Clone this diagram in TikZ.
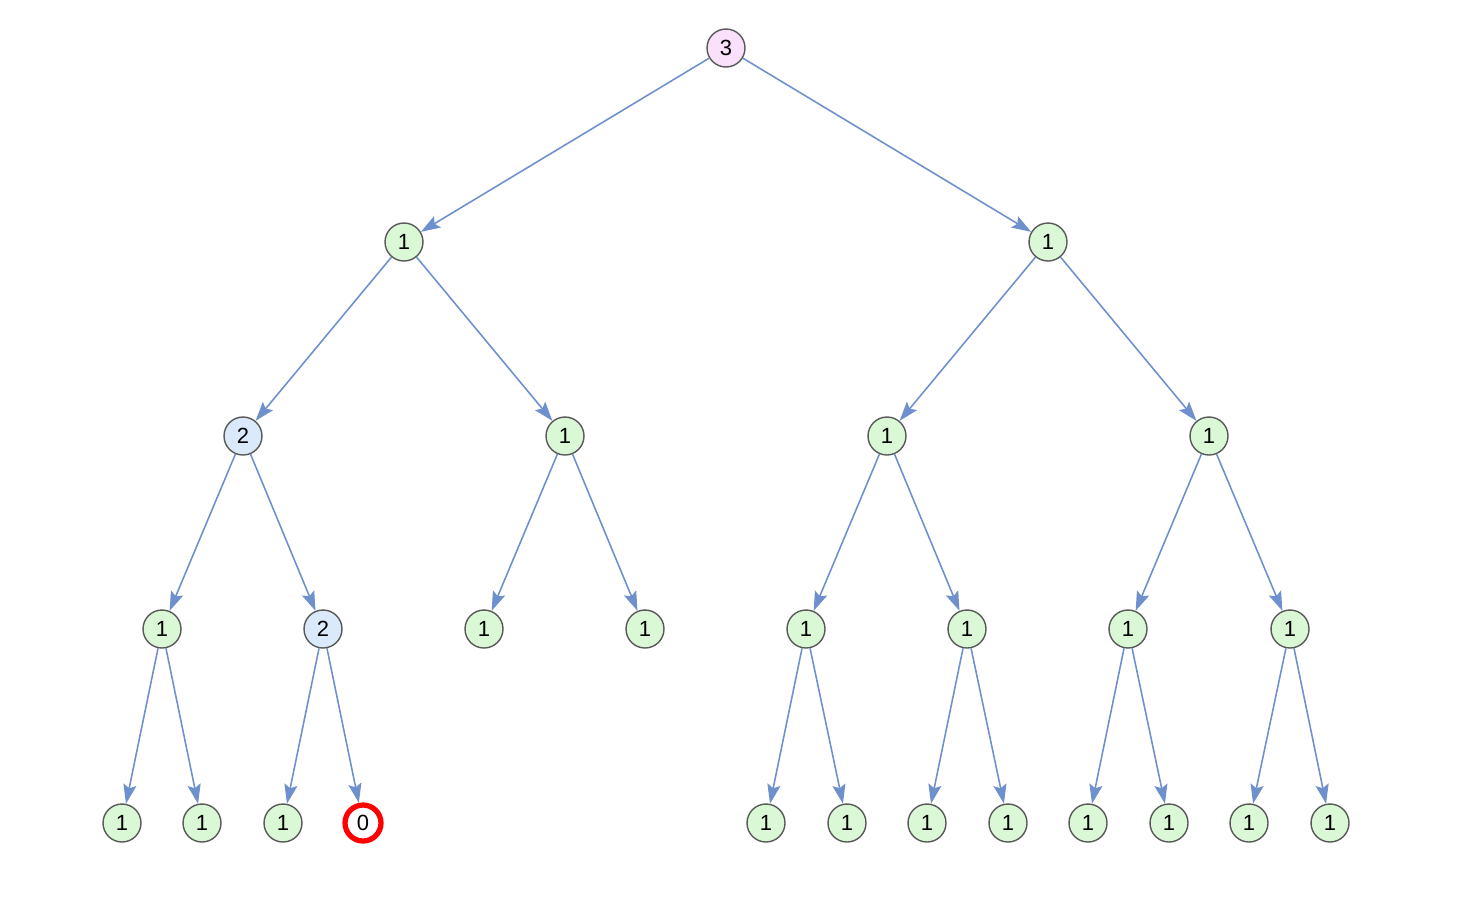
\documentclass[tikz,border=0pt]{standalone}
\usepackage{fontspec}
\setmainfont{Liberation Sans}
\usetikzlibrary{arrows.meta}
\definecolor{edgeblue}{RGB}{110,145,206}
\definecolor{leafgreen}{RGB}{218,247,214}
\definecolor{twoblue}{RGB}{219,234,250}
\definecolor{rootpink}{RGB}{250,224,250}

\begin{document}
\begin{tikzpicture}[x=0.02cm,y=-0.02cm,font=\fontsize{12.5}{14}\selectfont,
  vert/.style={circle,draw=black!65,line width=0.8pt,minimum size=0.76cm,inner sep=0pt},
  one/.style={vert,fill=leafgreen},
  two/.style={vert,fill=twoblue},
  top/.style={vert,fill=rootpink},
  bad/.style={vert,draw=red,line width=3pt,fill=white,minimum size=0.72cm},
  edge/.style={edgeblue,line width=0.9pt,-{Stealth[length=11pt,width=7.5pt,inset=2pt]}}]
\useasboundingbox (0,0) rectangle (1462,904);
% nodes
\node[top] (n) at (726,48) {3};
\node[one] (n0) at (404,242) {1};
\node[one] (n1) at (1048,242) {1};
\node[two] (n00) at (243,436) {2};
\node[one] (n01) at (565,436) {1};
\node[one] (n10) at (887,436) {1};
\node[one] (n11) at (1209,436) {1};
\node[one] (n000) at (162,629) {1};
\node[two] (n001) at (323,629) {2};
\node[one] (n010) at (484,629) {1};
\node[one] (n011) at (645,629) {1};
\node[one] (n100) at (806,629) {1};
\node[one] (n101) at (967,629) {1};
\node[one] (n110) at (1128,629) {1};
\node[one] (n111) at (1290,629) {1};
\node[one] (n0000) at (122,823) {1};
\node[one] (n0001) at (202,823) {1};
\node[one] (n0010) at (283,823) {1};
\node[bad] (n0011) at (363,823) {0};
\node[one] (n1000) at (766,823) {1};
\node[one] (n1001) at (847,823) {1};
\node[one] (n1010) at (927,823) {1};
\node[one] (n1011) at (1008,823) {1};
\node[one] (n1100) at (1088,823) {1};
\node[one] (n1101) at (1169,823) {1};
\node[one] (n1110) at (1249,823) {1};
\node[one] (n1111) at (1330,823) {1};
% edges
\draw[edge] (n) -- (n0);
\draw[edge] (n) -- (n1);
\draw[edge] (n0) -- (n00);
\draw[edge] (n0) -- (n01);
\draw[edge] (n1) -- (n10);
\draw[edge] (n1) -- (n11);
\draw[edge] (n00) -- (n000);
\draw[edge] (n00) -- (n001);
\draw[edge] (n01) -- (n010);
\draw[edge] (n01) -- (n011);
\draw[edge] (n10) -- (n100);
\draw[edge] (n10) -- (n101);
\draw[edge] (n11) -- (n110);
\draw[edge] (n11) -- (n111);
\draw[edge] (n000) -- (n0000);
\draw[edge] (n000) -- (n0001);
\draw[edge] (n001) -- (n0010);
\draw[edge] (n001) -- (n0011);
\draw[edge] (n100) -- (n1000);
\draw[edge] (n100) -- (n1001);
\draw[edge] (n101) -- (n1010);
\draw[edge] (n101) -- (n1011);
\draw[edge] (n110) -- (n1100);
\draw[edge] (n110) -- (n1101);
\draw[edge] (n111) -- (n1110);
\draw[edge] (n111) -- (n1111);
\end{tikzpicture}
\end{document}
